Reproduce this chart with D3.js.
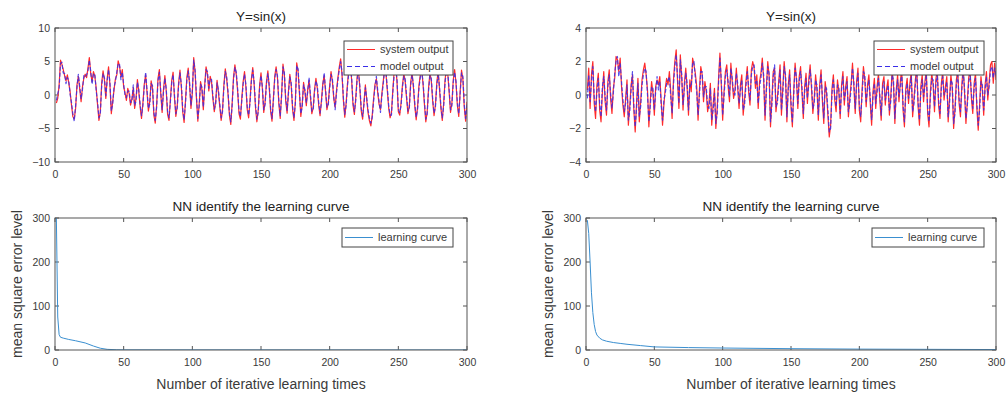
<!DOCTYPE html>
<html><head><meta charset="utf-8">
<script src="https://cdn.jsdelivr.net/npm/d3@7"></script>
<style>body{margin:0;background:#fff}svg{display:block;font-family:"Liberation Sans",Arial,sans-serif}</style>
</head><body><svg id="c" width="1007" height="394"></svg>
<script>
// ---------- data ----------
const xTicks = [0, 50, 100, 150, 200, 250, 300];
const yTicksTopLeft = [-10, -5, 0, 5, 10];
const yTicksTopRight = [-4, -2, 0, 2, 4];
const yTicksBottom = [0, 100, 200, 300];
const titleTop = "Y=sin(x)";
const titleBottom = "NN identify the learning curve";
const xLabelBottom = "Number of iterative learning times";
const yLabelBottom = "mean square error level";
const legendTop = ["system output", "model output"];
const legendBottom = ["learning curve"];

const sysLeft = [
-1.2,-0.5,1.5,5.2,4.6,3.8,2.9,2.1,3.0,1.8,
0.5,-1.5,-3.2,-3.6,-2.0,1.5,2.8,0.9,-1.0,1.2,
2.5,3.1,2.6,4.0,5.6,3.2,2.0,3.5,2.8,1.0,
-1.5,-3.8,-2.5,1.8,3.6,2.2,-0.5,2.5,4.2,1.5,
-2.8,-1.0,0.8,2.4,3.0,5.1,4.3,2.7,3.8,1.2,
0.3,-0.8,1.0,0.2,-1.5,-0.6,1.1,-2.0,-0.5,2.3,
0.5,-1.8,-3.5,-1.2,1.6,3.0,0.4,-2.4,-1.0,2.1,
1.0,-3.0,-4.2,-1.5,2.5,3.8,0.2,-2.6,0.8,2.9,
0.6,-2.9,-3.8,-0.7,2.2,3.4,-0.4,-3.2,-1.6,1.8,
3.7,1.2,-2.5,-4.1,-0.9,2.6,4.0,1.5,-2.0,0.3,
5.6,3.4,-0.5,-3.9,-1.3,2.0,0.8,-2.2,1.5,4.2,
3.1,0.6,2.8,1.9,-0.6,-2.5,-1.0,2.2,0.4,-1.8,
-3.8,-2.1,1.6,3.9,2.4,0.1,-3.0,-4.4,-1.2,2.7,
4.5,3.0,0.5,-2.8,-3.6,-0.5,2.0,3.5,1.2,-2.2,
-3.4,-0.8,2.4,4.1,1.6,-1.9,-4.0,-2.2,1.5,3.3,
0.9,-2.6,-1.0,2.0,3.6,1.1,-2.4,-3.9,-0.6,2.8,
4.2,2.5,-1.3,-3.5,0.2,4.6,3.0,-0.9,-2.7,0.6,
3.1,1.4,-2.1,-3.8,-1.0,4.8,3.5,0.2,-3.2,-1.4,
1.9,0.4,-1.6,0.8,2.2,-0.3,-2.8,-1.9,0.9,2.5,
1.0,-1.5,-3.1,-0.8,1.7,2.9,0.5,-2.2,-1.1,1.4,
3.5,2.0,-0.6,-1.8,0.7,2.6,4.2,5.4,3.0,-0.8,
-3.3,-1.2,1.8,3.9,5.0,2.2,-1.5,-2.9,-0.4,2.7,
3.8,0.9,-2.4,-3.6,-1.0,1.5,-0.8,-2.7,-3.9,-4.6,
-3.0,-0.5,1.6,2.4,0.3,-1.4,-2.2,0.2,2.0,4.1,
3.2,0.6,-2.0,-3.4,-2.6,0.8,3.6,4.4,2.1,-2.5,
-3.0,-1.2,1.5,3.2,2.0,-0.5,-2.8,-1.6,1.9,3.4,
1.1,-1.7,-3.7,-1.8,1.4,3.0,3.9,1.6,-1.4,-4.0,
-2.5,1.0,3.3,2.1,-0.9,-3.1,-1.5,1.8,3.6,0.8,
-2.0,-3.8,-1.3,2.2,4.0,3.1,0.4,-2.6,-1.2,2.3,
3.8,1.7,-1.6,-3.2,0.5,3.7,2.4,-1.8,-3.9,-1.0];

const modLeft = [
-0.8,0.2,1.0,4.7,4.9,3.3,3.2,1.7,2.6,2.2,
0.1,-1.1,-2.8,-3.9,-1.6,1.1,3.1,1.3,-0.6,0.8,
2.9,2.7,3.0,3.6,5.2,3.6,1.6,3.1,3.2,0.6,
-1.1,-3.4,-2.9,1.4,3.2,2.6,-0.1,2.1,3.8,1.9,
-2.4,-1.4,1.2,2.0,3.4,4.7,4.6,2.3,3.4,1.6,
-0.1,-0.4,0.6,0.6,-1.1,-1.0,1.5,-1.6,-0.9,1.9,
0.9,-1.4,-3.1,-1.6,1.2,3.4,0.8,-2.0,-1.4,1.7,
1.4,-2.6,-3.8,-1.9,2.1,3.4,0.6,-2.2,0.4,2.5,
1.0,-2.5,-3.4,-1.1,1.8,3.0,0.0,-2.8,-2.0,1.4,
3.3,1.6,-2.1,-3.7,-1.3,2.2,3.6,1.9,-1.6,0.7,
5.2,3.8,-0.1,-3.5,-1.7,1.6,1.2,-1.8,1.1,3.8,
3.5,1.0,2.4,2.3,-0.2,-2.1,-1.4,1.8,0.8,-1.4,
-3.4,-2.5,1.2,3.5,2.8,0.5,-2.6,-4.0,-1.6,2.3,
4.1,3.4,0.9,-2.4,-3.2,-0.9,1.6,3.1,1.6,-1.8,
-3.0,-1.2,2.0,3.7,2.0,-1.5,-3.6,-2.6,1.1,2.9,
1.3,-2.2,-1.4,1.6,3.2,1.5,-2.0,-3.5,-1.0,2.4,
3.8,2.9,-0.9,-3.1,-0.2,4.2,3.4,-0.5,-2.3,0.2,
2.7,1.8,-1.7,-3.4,-1.4,4.4,3.9,0.6,-2.8,-1.8,
1.5,0.8,-1.2,0.4,2.6,0.1,-2.4,-2.3,0.5,2.1,
1.4,-1.1,-2.7,-1.2,1.3,3.3,0.9,-1.8,-1.5,1.0,
3.1,2.4,-0.2,-2.2,0.3,2.2,3.8,5.0,3.4,-0.4,
-2.9,-1.6,1.4,3.5,4.6,2.6,-1.1,-2.5,-0.8,2.3,
3.4,1.3,-2.0,-3.2,-1.4,1.1,-0.4,-2.3,-3.5,-4.2,
-3.4,-0.9,1.2,2.8,0.7,-1.0,-2.6,-0.2,1.6,3.7,
3.6,1.0,-1.6,-3.0,-3.0,0.4,3.2,4.0,2.5,-2.1,
-2.6,-1.6,1.1,2.8,2.4,-0.1,-2.4,-2.0,1.5,3.0,
1.5,-1.3,-3.3,-2.2,1.0,2.6,3.5,2.0,-1.0,-3.6,
-2.9,0.6,2.9,2.5,-0.5,-2.7,-1.9,1.4,3.2,1.2,
-1.6,-3.4,-1.7,1.8,3.6,3.5,0.8,-2.2,-1.6,1.9,
3.4,2.1,-1.2,-2.8,0.1,3.3,2.8,-1.4,-3.5,-1.4];

const sysRight = [
0.3,1.6,-0.8,1.2,2.0,-0.5,-1.4,0.6,1.3,-0.9,
-1.6,0.2,1.4,-0.4,-1.2,0.8,1.5,-0.2,-1.1,0.4,
1.0,2.3,2.1,1.4,2.2,0.5,-0.6,-1.3,-0.2,0.9,
-1.8,-0.7,0.6,1.2,-0.9,-2.2,-0.5,1.0,-1.6,-0.4,
0.9,1.5,1.9,1.2,0.3,-1.9,-0.4,0.8,0.1,-1.2,
0.5,0.9,0.6,1.1,-0.3,-1.8,-0.6,0.4,1.0,0.6,
1.4,0.2,-1.4,0.9,2.0,2.7,0.8,-0.8,2.4,1.1,
-0.9,0.7,1.6,0.4,-1.2,0.9,0.2,2.2,1.8,1.3,
0.5,-1.5,0.3,1.7,1.2,-0.4,0.8,0.2,-1.0,-0.5,
0.7,-1.8,-0.6,0.4,-2.0,-0.8,1.0,2.5,0.6,-1.5,
0.2,1.4,1.8,0.5,-0.4,1.9,0.8,-0.2,0.3,1.6,
0.4,-0.8,0.6,1.2,-1.2,-0.3,0.8,1.7,0.2,-0.6,
1.5,2.0,1.6,0.4,1.2,-0.8,0.8,1.3,2.2,0.9,
-1.5,0.5,2.0,1.1,-1.9,-0.3,1.4,1.6,-1.0,-0.2,
0.8,1.8,-1.2,0.4,2.0,1.0,-1.6,0.6,1.5,-0.7,
-1.9,0.3,1.9,0.9,-0.8,1.1,1.7,0.2,-1.4,0.5,
1.3,-0.5,0.9,1.8,0.4,-1.1,-0.2,1.2,0.3,-1.5,
0.6,1.5,-0.4,-1.7,0.8,0.1,-1.2,-2.5,-1.8,0.4,
1.2,-0.3,-1.0,0.9,0.2,-1.4,0.6,1.4,-0.6,0.5,
1.1,-1.3,-0.2,0.7,1.9,0.5,-1.1,0.8,1.6,-0.9,
-1.6,0.3,1.7,0.9,-0.7,0.6,1.2,-0.5,-1.8,0.2,
1.0,-0.8,0.5,1.3,-0.3,-1.5,0.7,1.1,-0.6,0.4,
0.9,-1.2,-0.1,1.5,0.6,-1.7,0.3,1.2,-0.4,0.8,
1.6,-0.9,-1.9,0.4,1.0,-0.5,0.7,1.4,-1.3,-0.2,
0.9,1.7,-0.7,-1.8,0.5,1.2,-0.4,0.8,1.5,-1.1,
-1.9,0.2,1.3,0.6,-1.0,0.9,1.6,-0.6,-1.4,0.7,
1.4,-0.3,0.5,1.1,-1.6,-0.2,1.2,0.4,-2.0,-0.8,
0.9,1.5,-0.5,-1.3,0.6,1.7,0.1,-1.7,-0.4,1.0,
1.6,-0.2,-1.1,0.7,1.3,-0.8,-2.1,-0.6,1.1,0.3,
-1.2,0.6,1.4,-0.3,0.8,1.8,2.0,0.7,1.9,0.9];

const modRight = [
-0.2,1.2,-0.4,0.8,1.7,-0.1,-1.0,0.2,1.0,-0.5,
-1.3,0.5,1.1,-0.1,-0.9,0.5,1.2,0.1,-0.8,0.1,
1.3,2.0,2.3,1.1,1.9,0.8,-0.3,-1.0,-0.5,0.6,
-1.5,-1.0,0.3,1.4,-0.6,-1.9,-0.8,0.7,-1.3,-0.7,
0.6,1.2,1.6,1.4,0.0,-1.6,-0.7,0.5,0.4,-0.9,
0.2,1.1,0.3,0.8,-0.6,-1.5,-0.3,0.1,0.7,0.9,
1.1,-0.1,-1.1,0.6,1.7,2.4,1.1,-0.5,2.1,1.3,
-0.6,0.4,1.3,0.7,-0.9,0.6,0.5,1.9,2.0,1.0,
0.2,-1.2,0.0,1.4,1.4,-0.1,0.5,0.5,-0.7,-0.8,
0.4,-1.5,-0.9,0.1,-1.7,-1.1,0.7,2.2,0.9,-1.2,
-0.1,1.1,1.5,0.8,-0.1,1.6,1.0,0.1,0.0,1.3,
0.7,-0.5,0.3,0.9,-0.9,-0.6,0.5,1.4,0.5,-0.3,
1.2,1.7,1.8,0.7,0.9,-0.5,0.5,1.0,1.9,1.2,
-1.2,0.2,1.7,1.3,-1.6,-0.6,1.1,1.8,-0.7,-0.5,
0.5,1.5,-0.9,0.1,1.7,1.2,-1.3,0.3,1.2,-0.4,
-1.6,0.0,1.6,1.1,-0.5,0.8,1.4,0.5,-1.1,0.2,
1.0,-0.2,0.6,1.5,0.7,-0.8,-0.5,0.9,0.6,-1.2,
0.3,1.2,-0.1,-1.4,0.5,0.4,-0.9,-2.2,-2.0,0.1,
0.9,0.0,-0.7,0.6,0.5,-1.1,0.3,1.1,-0.3,0.2,
0.8,-1.0,-0.5,0.4,1.6,0.8,-0.8,0.5,1.3,-0.6,
-1.3,0.0,1.4,1.2,-0.4,0.3,0.9,-0.2,-1.5,-0.1,
0.7,-0.5,0.2,1.0,0.0,-1.2,0.4,0.8,-0.3,0.1,
0.6,-0.9,-0.4,1.2,0.9,-1.4,0.0,0.9,-0.1,0.5,
1.3,-0.6,-1.6,0.1,0.7,-0.2,0.4,1.1,-1.0,-0.5,
0.6,1.4,-0.4,-1.5,0.2,0.9,-0.1,0.5,1.2,-0.8,
-1.6,-0.1,1.0,0.9,-0.7,0.6,1.3,-0.3,-1.1,0.4,
1.1,0.0,0.2,0.8,-1.3,-0.5,0.9,0.7,-1.7,-1.1,
0.6,1.2,-0.2,-1.0,0.3,1.4,0.4,-1.4,-0.7,0.7,
1.3,0.1,-0.8,0.4,1.0,-0.5,-1.8,-0.9,0.8,0.6,
-0.9,0.3,1.1,0.0,0.5,1.5,1.7,1.0,1.6,1.2];

const lcLeftX = [1, 2, 3, 4, 6, 10, 15, 22, 28, 33, 38, 45, 50, 100, 200, 300];
const lcLeftY = [300, 75, 35, 29, 27, 24, 21, 16, 9, 4, 1.5, 0.5, 0.3, 0.2, 0.1, 0.05];
const lcRightX = [1, 2, 3, 4, 5, 6, 7, 8, 10, 12, 15, 20, 25, 30, 40, 50, 75, 100, 150, 200, 250, 300];
const lcRightY = [295, 265, 200, 130, 85, 58, 42, 34, 27, 23, 20, 17, 15, 13, 10, 7, 5.5, 4.5, 3, 2, 1.5, 1];

// ---------- drawing ----------
const svg = d3.select("#c");
const TXT = "#3a3a3a", AX = "#555";
const RED = "#ff2a2a", BLUE = "#3a2ee8", LC = "#3a8fd0";

function panel(o) {
  const x = d3.scaleLinear().domain([0, 300]).range([o.x0, o.x1]);
  const y = d3.scaleLinear().domain(o.yDomain).range([o.y1, o.y0]);
  const g = svg.append("g");
  g.append("rect").attr("x", o.x0).attr("y", o.y0).attr("width", o.x1 - o.x0).attr("height", o.y1 - o.y0).attr("fill", "#fff");
  const tl = 4;
  const axB = d3.axisBottom(x).tickValues(xTicks).tickSize(0).tickPadding(9);
  const axL = d3.axisLeft(y).tickValues(o.yTicks).tickSize(0).tickPadding(5);
  const gb = g.append("g").attr("transform", `translate(0,${o.y1})`).call(axB);
  const gl = g.append("g").attr("transform", `translate(${o.x0},0)`).call(axL);
  [gb, gl].forEach(a => {
    a.select(".domain").remove();
    a.selectAll("text").attr("fill", TXT).style("font-size", "10.5px").style("font-family", "'Liberation Sans',Arial,sans-serif");
  });
  // inward ticks on all four sides
  xTicks.forEach(t => {
    g.append("line").attr("x1", x(t)).attr("x2", x(t)).attr("y1", o.y1).attr("y2", o.y1 - tl).attr("stroke", AX);
    g.append("line").attr("x1", x(t)).attr("x2", x(t)).attr("y1", o.y0).attr("y2", o.y0 + tl).attr("stroke", AX);
  });
  o.yTicks.forEach(t => {
    g.append("line").attr("x1", o.x0).attr("x2", o.x0 + tl).attr("y1", y(t)).attr("y2", y(t)).attr("stroke", AX);
    g.append("line").attr("x1", o.x1).attr("x2", o.x1 - tl).attr("y1", y(t)).attr("y2", y(t)).attr("stroke", AX);
  });
  // data
  const clip = "clip" + Math.round(o.x0) + "_" + Math.round(o.y0);
  svg.append("clipPath").attr("id", clip).append("rect").attr("x", o.x0).attr("y", o.y0).attr("width", o.x1 - o.x0).attr("height", o.y1 - o.y0);
  const dg = g.append("g").attr("clip-path", `url(#${clip})`);
  o.series.forEach(s => {
    const line = d3.line().x(d => x(d[0])).y(d => y(d[1]));
    dg.append("path").datum(s.pts).attr("d", line).attr("fill", "none")
      .attr("stroke", s.color).attr("stroke-width", s.w || 1).attr("stroke-dasharray", s.dash || null)
      .attr("stroke-linejoin", "round").attr("stroke-opacity", s.op || 1);
  });
  // box
  g.append("rect").attr("x", o.x0).attr("y", o.y0).attr("width", o.x1 - o.x0).attr("height", o.y1 - o.y0)
    .attr("fill", "none").attr("stroke", AX).attr("stroke-width", 1);
  // title
  g.append("text").attr("x", (o.x0 + o.x1) / 2).attr("y", o.y0 - 7).attr("text-anchor", "middle")
    .attr("fill", "#222").style("font-size", "13.5px").text(o.title);
  if (o.xLabel) g.append("text").attr("x", (o.x0 + o.x1) / 2).attr("y", o.y1 + 39).attr("text-anchor", "middle")
    .attr("fill", TXT).style("font-size", "14px").text(o.xLabel);
  if (o.yLabel) g.append("text").attr("transform", `translate(${o.x0 - 33},${(o.y0 + o.y1) / 2}) rotate(-90)`)
    .attr("text-anchor", "middle").attr("fill", TXT).style("font-size", "14px").text(o.yLabel);
  // legend
  const L = o.legend;
  const lg = g.append("g");
  lg.append("rect").attr("x", L.x).attr("y", L.y).attr("width", L.w).attr("height", L.h)
    .attr("fill", "#fff").attr("stroke", "#444").attr("stroke-width", 1);
  L.items.forEach((it, i) => {
    const cy = L.y + L.h / (L.items.length * 2) * (2 * i + 1);
    lg.append("line").attr("x1", L.x + 3).attr("x2", L.x + 31).attr("y1", cy).attr("y2", cy)
      .attr("stroke", it.color).attr("stroke-width", 1).attr("stroke-dasharray", it.dash || null);
    lg.append("text").attr("x", L.x + 36).attr("y", cy).attr("dy", "0.35em").attr("fill", TXT)
      .style("font-size", "11px").text(it.label);
  });
}

const toPts = arr => arr.map((v, i) => [i + 1, v]);
const zipPts = (xs, ys) => xs.map((v, i) => [v, ys[i]]);

const topItems = [{label: legendTop[0], color: RED}, {label: legendTop[1], color: BLUE, dash: "5,3"}];
const botItems = [{label: legendBottom[0], color: LC}];

panel({x0: 55, x1: 467, y0: 28, y1: 162, yDomain: [-10, 10], yTicks: yTicksTopLeft, title: titleTop,
  series: [{pts: toPts(sysLeft), color: RED, w: 1.2}, {pts: toPts(modLeft), color: BLUE, dash: "4,2", w: 1.2, op: 0.85}],
  legend: {x: 344, y: 41, w: 109, h: 34, items: topItems}});
panel({x0: 586, x1: 996, y0: 28, y1: 162, yDomain: [-4, 4], yTicks: yTicksTopRight, title: titleTop,
  series: [{pts: toPts(sysRight), color: RED, w: 1.2}, {pts: toPts(modRight), color: BLUE, dash: "4,2", w: 1.2, op: 0.85}],
  legend: {x: 874, y: 41, w: 110, h: 34, items: topItems}});
panel({x0: 55, x1: 467, y0: 218, y1: 350, yDomain: [0, 300], yTicks: yTicksBottom, title: titleBottom,
  xLabel: xLabelBottom, yLabel: yLabelBottom,
  series: [{pts: zipPts(lcLeftX, lcLeftY), color: LC}],
  legend: {x: 342, y: 228, w: 111, h: 19, items: botItems}});
panel({x0: 586, x1: 996, y0: 218, y1: 350, yDomain: [0, 300], yTicks: yTicksBottom, title: titleBottom,
  xLabel: xLabelBottom, yLabel: yLabelBottom,
  series: [{pts: zipPts(lcRightX, lcRightY), color: LC}],
  legend: {x: 872, y: 228, w: 112, h: 19, items: botItems}});
</script></body></html>
